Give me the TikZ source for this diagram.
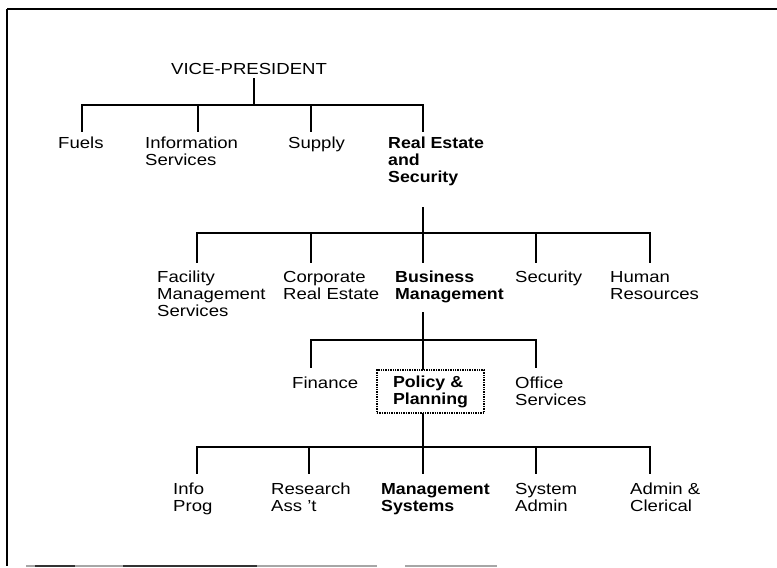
\documentclass[tikz,border=0pt]{standalone}
\usepackage{fontspec}
\setmainfont{Liberation Sans}[FakeStretch=1.16,BoldFeatures={FakeStretch=1.11}]
\begin{document}
\begin{tikzpicture}[x=1pt,y=-1pt,
  lbl/.style={anchor=north west,inner sep=0pt,align=left,
    font=\fontsize{16}{17}\selectfont},
  blbl/.style={lbl,font=\fontsize{16}{17}\selectfont\bfseries},
  link/.style={line width=1.9pt,line cap=rect},
  frame/.style={line width=2.6pt}]
\useasboundingbox (0,0) rectangle (777,568);

% outer frame (top and left rules, broken bottom rule)
\draw[frame] (7,9) -- (777,9);
\draw[frame] (7,9) -- (7,566);
\draw[line width=1.4pt,gray!70] (26,566) -- (377,566);
\draw[line width=1.4pt,gray!70] (405,566) -- (497,566);
\draw[line width=1.6pt,black!80] (35,566) -- (75,566);
\draw[line width=1.6pt,black!80] (123,566) -- (257,566);

% ---------- labels ----------
\node[lbl] (vp) at (171,63) {VICE-PRESIDENT};

\node[lbl] (fuels)  at (58,137)  {Fuels};
\node[lbl] (info)   at (145,137) {Information\\Services};
\node[lbl] (supply) at (288,137) {Supply};
\node[blbl] (res)   at (388,137) {Real Estate\\and\\Security};

\node[lbl] (fms) at (157,271) {Facility\\Management\\Services};
\node[lbl] (cre) at (283,271) {Corporate\\Real Estate};
\node[blbl] (bm) at (395,271) {Business\\Management};
\node[lbl] (sec) at (515,271) {Security};
\node[lbl] (hr)  at (610,271) {Human\\Resources};

\node[lbl] (fin) at (292,377) {Finance};
\node[blbl,anchor=center,draw,densely dotted,line width=1.4pt,
      minimum width=107pt,minimum height=43pt] (pp) at (430.5,391.5)
      {Policy \&\\Planning};
\node[lbl] (os)  at (515,377) {Office\\Services};

\node[lbl] (ip) at (173,483) {Info\\Prog};
\node[lbl] (ra) at (271,483) {Research\\Ass 't};
\node[blbl] (ms) at (381,483) {Management\\Systems};
\node[lbl] (sa) at (515,483) {System\\Admin};
\node[lbl] (ac) at (630,483) {Admin \&\\Clerical};

% ---------- junction points ----------
\coordinate (vpd) at (254,79);
\coordinate (b1)  at (254,105);
\coordinate (b1l) at (82,105);
\coordinate (b1r) at (423,105);
\coordinate (fuelsT)  at (82,131);
\coordinate (infoT)   at (198,131);
\coordinate (supplyT) at (311,131);
\coordinate (resT)    at (423,131);

\coordinate (resD) at (423,208);
\coordinate (b2)   at (423,233);
\coordinate (b2l)  at (197,233);
\coordinate (b2r)  at (650,233);
\coordinate (fmsT) at (197,262);
\coordinate (creT) at (311,262);
\coordinate (bmT)  at (423,262);
\coordinate (secT) at (536,262);
\coordinate (hrT)  at (650,262);

\coordinate (bmD) at (423,313);
\coordinate (b3)  at (423,340);
\coordinate (b3l) at (311,340);
\coordinate (b3r) at (536,340);
\coordinate (finT) at (311,367);
\coordinate (osT)  at (536,367);

\coordinate (b4)  at (423,447);
\coordinate (b4l) at (197,447);
\coordinate (b4r) at (650,447);
\coordinate (ipT) at (197,473);
\coordinate (raT) at (309,473);
\coordinate (msT) at (423,473);
\coordinate (saT) at (536,473);
\coordinate (acT) at (650,473);

% ---------- connectors ----------
\draw[link] (vpd) -- (b1);
\draw[link] (b1l) -- (b1r);
\draw[link] (b1l) -- (fuelsT);
\draw[link] (infoT |- b1) -- (infoT);
\draw[link] (supplyT |- b1) -- (supplyT);
\draw[link] (b1r) -- (resT);

\draw[link] (resD) -- (b2);
\draw[link] (b2l) -- (b2r);
\draw[link] (b2l) -- (fmsT);
\draw[link] (creT |- b2) -- (creT);
\draw[link] (b2) -- (bmT);
\draw[link] (secT |- b2) -- (secT);
\draw[link] (b2r) -- (hrT);

\draw[link] (bmD) -- (b3);
\draw[link] (b3l) -- (b3r);
\draw[link] (b3l) -- (finT);
\draw[link] (b3) -- (b3 |- pp.north);
\draw[link] (b3r) -- (osT);

\draw[link] (b4 |- pp.south) -- (b4);
\draw[link] (b4l) -- (b4r);
\draw[link] (b4l) -- (ipT);
\draw[link] (raT |- b4) -- (raT);
\draw[link] (b4) -- (msT);
\draw[link] (saT |- b4) -- (saT);
\draw[link] (b4r) -- (acT);
\end{tikzpicture}
\end{document}
